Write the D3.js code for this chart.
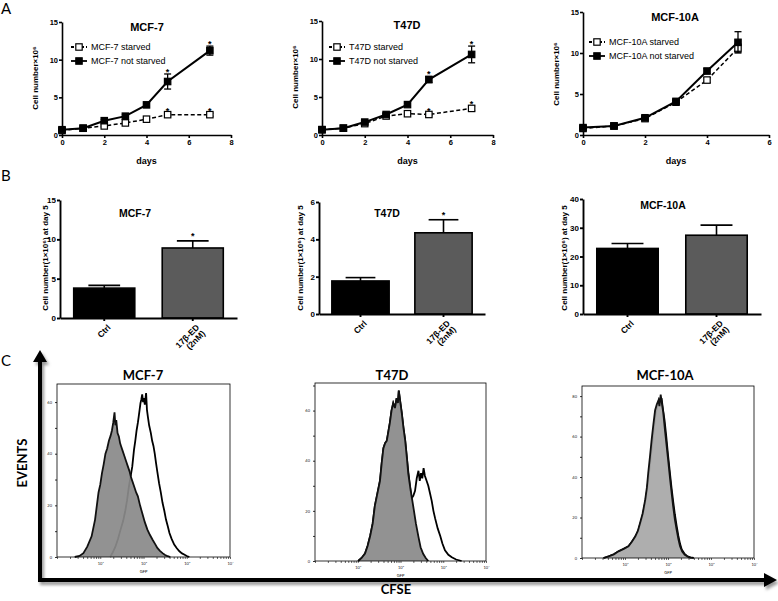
<!DOCTYPE html>
<html>
<head>
<meta charset="utf-8">
<script src="https://cdn.jsdelivr.net/npm/d3@7"></script>
<style>
  body { margin: 0; background: #fff; }
  svg { display: block; }
  .ax path, .ax line { stroke: #000; }
</style>
</head>
<body>
<script>
const width = 778;
const height = 601;

// ---- panel A: growth curves (cells x10^6) ----
const days = [0, 1, 2, 3, 4, 5, 7];
const days10a = [0, 1, 2, 3, 4, 5];

const mcf7Starved = [0.6, 0.9, 1.2, 1.6, 2.1, 2.7, 2.7];
const mcf7StarvedErr = [0.1, 0.1, 0.15, 0.15, 0.15, 0.2, 0.2];
const mcf7Fed = [0.7, 0.9, 1.9, 2.5, 4.0, 7.1, 11.2];
const mcf7FedErr = [0.1, 0.1, 0.15, 0.2, 0.2, 1.0, 0.6];

const t47dStarved = [0.7, 0.9, 1.5, 2.5, 2.8, 2.7, 3.5];
const t47dStarvedErr = [0.1, 0.1, 0.1, 0.15, 0.15, 0.15, 0.3];
const t47dFed = [0.7, 0.9, 1.7, 2.7, 4.0, 7.3, 10.6];
const t47dFedErr = [0.1, 0.1, 0.15, 0.15, 0.2, 0.4, 1.1];

const mcf10aStarved = [0.8, 1.1, 2.0, 4.0, 6.7, 10.6];
const mcf10aStarvedErr = [0.1, 0.1, 0.1, 0.15, 0.3, 0.5];
const mcf10aFed = [0.9, 1.1, 2.1, 4.1, 7.8, 11.3];
const mcf10aFedErr = [0.1, 0.1, 0.1, 0.15, 0.3, 1.3];

const starDays = [5, 7];

// ---- panel B: cell number at day 5 ----
const treatments = ["Ctrl", "17β-ED (2nM)"];
const mcf7Day5 = [3.8, 8.9];
const mcf7Day5Err = [0.35, 0.9];
const t47dDay5 = [1.77, 4.35];
const t47dDay5Err = [0.18, 0.7];
const mcf10aDay5 = [22.8, 27.4];
const mcf10aDay5Err = [1.7, 3.5];

// ---- panel C: CFSE histograms, [log10 intensity, events] ----
const mcf7Shaded = [[0.41,0],[0.52,0.4],[0.61,1.5],[0.70,4],[0.80,8],[0.88,14.5],[0.96,25],[1.00,28],[1.04,32.5],[1.08,36],[1.12,40],[1.16,42],[1.20,45],[1.24,47],[1.27,49],[1.30,52],[1.33,56],[1.35,51],[1.37,53],[1.40,48],[1.43,46.7],[1.46,44],[1.48,43],[1.52,41],[1.56,39],[1.60,37],[1.64,35],[1.68,33],[1.71,31],[1.75,29],[1.79,27],[1.83,25],[1.87,23.5],[1.92,20],[1.97,17],[2.03,13.5],[2.09,10.6],[2.15,8.5],[2.21,6.7],[2.27,5],[2.32,3.5],[2.38,2.4],[2.44,1.5],[2.50,0.8],[2.56,0.3],[2.62,0]];
const mcf7Open = [[1.23,0],[1.29,1.8],[1.35,4],[1.41,7],[1.47,10.6],[1.53,14],[1.58,18],[1.62,22],[1.66,27],[1.70,31],[1.74,35],[1.78,41.5],[1.81,45],[1.84,49],[1.87,52],[1.89,54.5],[1.91,57],[1.93,59.6],[1.95,61],[1.97,63],[1.99,60],[2.01,61.5],[2.03,59],[2.06,63.5],[2.08,57],[2.10,54.5],[2.13,51],[2.17,48],[2.20,45],[2.23,43],[2.26,40],[2.29,36.4],[2.32,33],[2.36,28.6],[2.40,25],[2.44,21],[2.48,18],[2.52,14.5],[2.56,12],[2.60,9.3],[2.65,7],[2.71,4.8],[2.77,3.4],[2.83,2.2],[2.89,1.4],[2.95,0.9],[3.00,0.4],[3.06,0]];

const t47dShaded = [[1.01,0],[1.09,1.2],[1.17,3],[1.23,6],[1.29,10],[1.35,15],[1.40,22],[1.46,27],[1.52,32],[1.56,39],[1.60,45],[1.64,47],[1.68,48],[1.72,52],[1.75,55],[1.79,60],[1.83,63],[1.87,61],[1.91,65],[1.94,63],[1.96,68],[1.99,64],[2.03,59],[2.07,53],[2.11,48],[2.15,41],[2.18,35],[2.24,28],[2.30,21.6],[2.36,15],[2.42,9.6],[2.47,5.5],[2.53,2.9],[2.59,1.2],[2.65,0]];
const t47dOpen = [[1.01,0],[1.09,1.2],[1.17,3],[1.23,6],[1.29,10],[1.35,15],[1.40,22],[1.46,27],[1.52,32],[1.56,39],[1.60,45],[1.64,47],[1.68,48],[1.72,52],[1.75,55],[1.79,60],[1.83,63],[1.87,61],[1.91,65],[1.94,63],[1.96,68],[1.99,64],[2.03,59],[2.07,53],[2.11,48],[2.15,41],[2.18,36],[2.22,30],[2.26,25],[2.30,26],[2.34,28],[2.38,33],[2.42,36],[2.45,32],[2.48,35],[2.51,33],[2.54,37],[2.57,34],[2.61,32],[2.65,30],[2.69,27],[2.73,24],[2.77,20],[2.81,17],[2.87,13],[2.93,10],[2.98,7],[3.04,4.3],[3.12,2.5],[3.20,1.5],[3.30,0.6],[3.43,0]];

const mcf10aShaded = [[0.50,0],[0.62,0.8],[0.74,1.8],[0.85,3.3],[0.97,4.5],[1.08,5.8],[1.16,8],[1.24,10.7],[1.30,13.5],[1.35,17.3],[1.41,22],[1.47,28.8],[1.51,35],[1.54,42],[1.58,50],[1.62,58.5],[1.66,66],[1.70,73],[1.74,76],[1.78,78],[1.80,75],[1.83,80.7],[1.86,76],[1.89,71.7],[1.93,63],[1.97,55],[2.01,47],[2.05,38.7],[2.09,31],[2.12,25.5],[2.16,19],[2.20,14],[2.24,9.5],[2.28,5.8],[2.33,3.2],[2.39,1.6],[2.47,0.5],[2.55,0]];
const mcf10aOpen = [[0.50,0],[0.62,0.8],[0.74,1.8],[0.85,3.3],[0.97,4.5],[1.08,5.8],[1.16,8],[1.24,10.5],[1.30,13],[1.35,16.5],[1.41,21],[1.47,27.5],[1.51,33],[1.55,40],[1.59,48],[1.63,56],[1.67,64],[1.71,71],[1.75,75],[1.79,78],[1.82,76],[1.85,79],[1.88,74],[1.92,68],[1.96,60],[2.00,51],[2.04,43],[2.08,35],[2.12,28],[2.16,21.5],[2.20,16],[2.24,11],[2.28,7],[2.32,4.2],[2.38,2.2],[2.44,1],[2.52,0.3],[2.60,0]];

const svg = d3
  .select("body")
  .append("svg")
  .attr("width", width)
  .attr("height", height);

const boldFont = "Liberation Sans, Arial, sans-serif";
const softFont = "Lato, Noto Sans, sans-serif";

// panel letters
svg.append("text").attr("x", 1).attr("y", 14).text("A");
svg.append("text").attr("x", 1).attr("y", 181).text("B");
svg.append("text").attr("x", 1).attr("y", 366).text("C");
svg.selectAll("text").attr("font-family", softFont).attr("font-size", 15);

function styleAxis(g, w, fs) {
  g.attr("class", "ax");
  g.selectAll("path").attr("stroke-width", w);
  g.selectAll("line").attr("stroke-width", w);
  g.selectAll("text")
    .attr("font-family", boldFont)
    .attr("font-weight", "bold")
    .attr("font-size", fs)
    .attr("fill", "#000");
}

function growthChart(c) {
  const g = svg.append("g");
  const x = d3.scaleLinear().domain([0, c.xMax]).range([c.x0, c.x1]);
  const y = d3.scaleLinear().domain([0, 15]).range([c.y0, c.y1]);

  const xa = g.append("g")
    .attr("transform", `translate(0,${c.y0})`)
    .call(d3.axisBottom(x).tickValues(d3.range(0, c.xMax + 1, 2)).tickFormat(d3.format("d"))
      .tickSize(3).tickSizeOuter(0).tickPadding(2));
  styleAxis(xa, 1.6, 7.5);
  const ya = g.append("g")
    .attr("transform", `translate(${c.x0},0)`)
    .call(d3.axisLeft(y).tickValues([0, 5, 10, 15]).tickSize(3).tickSizeOuter(0).tickPadding(1));
  styleAxis(ya, 1.6, 7.5);

  g.append("text")
    .attr("x", (c.x0 + c.x1) / 2)
    .attr("y", c.y0 + 29)
    .attr("text-anchor", "middle")
    .attr("font-family", boldFont).attr("font-weight", "bold").attr("font-size", 9)
    .text("days");
  g.append("text")
    .attr("transform", `translate(${c.yLabelX},${c.yLabelY}) rotate(-90)`)
    .attr("text-anchor", "middle")
    .attr("font-family", boldFont).attr("font-weight", "bold").attr("font-size", 8)
    .text("Cell number×10⁶");
  g.append("text")
    .attr("x", c.titleX).attr("y", c.titleY)
    .attr("text-anchor", "middle")
    .attr("font-family", boldFont).attr("font-weight", "bold").attr("font-size", 11)
    .text(c.title);

  const series = [
    { v: c.starved, e: c.starvedErr, open: true },
    { v: c.fed, e: c.fedErr, open: false },
  ];
  const line = d3.line().x((d) => x(d.d)).y((d) => y(d.v));

  series.forEach((s) => {
    const pts = c.days.map((d, i) => ({ d, v: s.v[i], e: s.e[i] }));
    g.append("path")
      .datum(pts)
      .attr("d", line)
      .attr("fill", "none")
      .attr("stroke", "#000")
      .attr("stroke-width", s.open ? 1.5 : 2)
      .attr("stroke-dasharray", s.open ? "4,2.5" : null);
    const eb = g.append("g");
    pts.forEach((p) => {
      const xx = x(p.d);
      eb.append("line").attr("x1", xx).attr("x2", xx).attr("y1", y(p.v - p.e)).attr("y2", y(p.v + p.e));
      eb.append("line").attr("x1", xx - 3.5).attr("x2", xx + 3.5).attr("y1", y(p.v + p.e)).attr("y2", y(p.v + p.e));
      eb.append("line").attr("x1", xx - 3.5).attr("x2", xx + 3.5).attr("y1", y(p.v - p.e)).attr("y2", y(p.v - p.e));
    });
    eb.selectAll("line").attr("stroke", "#000").attr("stroke-width", 1.3);
    g.selectAll(null)
      .data(pts)
      .enter()
      .append("rect")
      .attr("x", (p) => x(p.d) - 3.2)
      .attr("y", (p) => y(p.v) - 3.2)
      .attr("width", 6.4)
      .attr("height", 6.4)
      .attr("fill", s.open ? "#fff" : "#000")
      .attr("stroke", "#000")
      .attr("stroke-width", 1.2);
    if (c.stars) {
      g.selectAll(null)
        .data(pts.filter((p) => starDays.includes(p.d)))
        .enter()
        .append("text")
        .attr("x", (p) => x(p.d))
        .attr("y", (p) => y(p.v + p.e) + 1)
        .attr("text-anchor", "middle")
        .attr("font-family", boldFont).attr("font-weight", "bold").attr("font-size", 9)
        .text("*");
    }
  });

  // legend
  c.names.forEach((name, i) => {
    const ly = c.legendY + i * 14;
    g.append("line")
      .attr("x1", c.legendX - 8).attr("x2", c.legendX + 8)
      .attr("y1", ly).attr("y2", ly)
      .attr("stroke", "#000").attr("stroke-width", 1.8)
      .attr("stroke-dasharray", i === 0 ? "3,2" : null);
    g.append("rect")
      .attr("x", c.legendX - 3.2).attr("y", ly - 3.2)
      .attr("width", 6.4).attr("height", 6.4)
      .attr("fill", i === 0 ? "#fff" : "#000")
      .attr("stroke", "#000").attr("stroke-width", 1.2);
    g.append("text")
      .attr("x", c.legendX + 12).attr("y", ly + 3)
      .attr("font-family", boldFont).attr("font-size", 9)
      .text(name);
  });
}

growthChart({
  title: "MCF-7", titleX: 147, titleY: 31,
  x0: 62, x1: 231, y0: 135, y1: 22, xMax: 8,
  days, starved: mcf7Starved, starvedErr: mcf7StarvedErr, fed: mcf7Fed, fedErr: mcf7FedErr,
  stars: true, names: ["MCF-7 starved", "MCF-7 not starved"],
  legendX: 79, legendY: 47, yLabelX: 38, yLabelY: 78,
});
growthChart({
  title: "T47D", titleX: 407, titleY: 29,
  x0: 322, x1: 493, y0: 135, y1: 21, xMax: 8,
  days, starved: t47dStarved, starvedErr: t47dStarvedErr, fed: t47dFed, fedErr: t47dFedErr,
  stars: true, names: ["T47D starved", "T47D not starved"],
  legendX: 337, legendY: 47, yLabelX: 298, yLabelY: 77,
});
growthChart({
  title: "MCF-10A", titleX: 675, titleY: 21,
  x0: 583, x1: 769, y0: 135, y1: 12, xMax: 6,
  days: days10a, starved: mcf10aStarved, starvedErr: mcf10aStarvedErr, fed: mcf10aFed, fedErr: mcf10aFedErr,
  stars: false, names: ["MCF-10A starved", "MCF-10A not starved"],
  legendX: 597, legendY: 42, yLabelX: 559, yLabelY: 74,
});

function barChart(c) {
  const g = svg.append("g");
  const x = d3.scaleBand().domain(treatments).range([c.x0, c.x1]).paddingInner(0.31).paddingOuter(0.155);
  const y = d3.scaleLinear().domain([0, c.yMax]).range([c.y0, c.y1]);

  const bw = x.bandwidth();
  treatments.forEach((t, i) => {
    const cx = x(t) + bw / 2;
    const top = y(c.vals[i] + c.errs[i]);
    g.append("line").attr("x1", cx).attr("x2", cx).attr("y1", y(c.vals[i])).attr("y2", top)
      .attr("stroke", "#000").attr("stroke-width", 1.6);
    g.append("line").attr("x1", cx - bw * 0.26).attr("x2", cx + bw * 0.26).attr("y1", top).attr("y2", top)
      .attr("stroke", "#000").attr("stroke-width", 1.6);
    if (c.star && i === 1) {
      g.append("text").attr("x", cx).attr("y", top - 2).attr("text-anchor", "middle")
        .attr("font-family", boldFont).attr("font-weight", "bold").attr("font-size", 9).text("*");
    }
  });
  g.selectAll("rect")
    .data(c.vals)
    .enter()
    .append("rect")
    .attr("x", (d, i) => x(treatments[i]))
    .attr("y", (d) => y(d))
    .attr("width", bw)
    .attr("height", (d) => c.y0 - y(d))
    .attr("fill", (d, i) => (i === 0 ? "#000" : "#5b5b5b"))
    .attr("stroke", "#000")
    .attr("stroke-width", 1.6);

  const xa = g.append("g")
    .attr("transform", `translate(0,${c.y0})`)
    .call(d3.axisBottom(x).tickSize(3).tickSizeOuter(0).tickFormat(""));
  styleAxis(xa, 1.9, 8);
  const ya = g.append("g")
    .attr("transform", `translate(${c.x0},0)`)
    .call(d3.axisLeft(y).ticks(c.ticks).tickSize(3).tickSizeOuter(0).tickPadding(1));
  styleAxis(ya, 1.9, 8);

  // rotated category labels
  treatments.forEach((t, i) => {
    const cx = x(t) + bw / 2;
    const parts = t.split(" ");
    const tx = g.append("text")
      .attr("transform", `translate(${cx + 7},${c.y0 + 10}) rotate(-45)`)
      .attr("text-anchor", "end")
      .attr("font-family", boldFont).attr("font-weight", "bold").attr("font-size", 8.5);
    parts.forEach((p, k) => {
      tx.append("tspan").attr("x", 0).attr("dy", k === 0 ? 0 : 8.5).text(p);
    });
  });

  g.append("text")
    .attr("transform", `translate(${c.yLabelX},258) rotate(-90)`)
    .attr("text-anchor", "middle")
    .attr("font-family", boldFont).attr("font-weight", "bold").attr("font-size", 8)
    .text("Cell number(1×10⁶) at day 5");
  g.append("text")
    .attr("x", c.titleX).attr("y", c.titleY)
    .attr("text-anchor", "middle")
    .attr("font-family", boldFont).attr("font-weight", "bold").attr("font-size", 10.5)
    .text(c.title);
}

barChart({ title: "MCF-7", titleX: 135, titleY: 217, x0: 60, x1: 237, y0: 318, y1: 200, yMax: 15, ticks: 3,
  vals: mcf7Day5, errs: mcf7Day5Err, star: true, yLabelX: 48 });
barChart({ title: "T47D", titleX: 387, titleY: 217, x0: 319, x1: 485, y0: 314, y1: 202, yMax: 6, ticks: 3,
  vals: t47dDay5, errs: t47dDay5Err, star: true, yLabelX: 303 });
barChart({ title: "MCF-10A", titleX: 663, titleY: 209, x0: 583, x1: 761, y0: 314, y1: 199, yMax: 40, ticks: 4,
  vals: mcf10aDay5, errs: mcf10aDay5Err, star: false, yLabelX: 567 });

// panel C big axes
const defs = svg.append("defs");
defs.append("filter").attr("id", "soft").append("feGaussianBlur").attr("stdDeviation", 1.6);
const arrows = svg.append("g");
[["#9a9a9a", 2, 3, "url(#soft)"], ["#000", 0, 0, null]].forEach(([col, dx, dy, f]) => {
  const a = arrows.append("g").attr("transform", `translate(${dx},${dy})`).attr("filter", f);
  a.append("path").attr("d", "M40,580 L40,360 M38,580 L766,580")
    .attr("stroke", col).attr("stroke-width", 4).attr("fill", "none");
  a.append("path").attr("d", "M40,350 L33,362 L47,362 Z M777,580 L764,573 L764,587 Z").attr("fill", col);
});
svg.append("text")
  .attr("transform", "translate(27,463) rotate(-90)")
  .attr("text-anchor", "middle")
  .attr("font-family", softFont).attr("font-weight", "bold").attr("font-size", 13)
  .text("EVENTS");
svg.append("text")
  .attr("x", 396).attr("y", 594)
  .attr("text-anchor", "middle")
  .attr("font-family", softFont).attr("font-weight", "bold").attr("font-size", 13)
  .text("CFSE");

function histogram(c) {
  const g = svg.append("g");
  const x = d3.scaleLog().domain([1, 1e4]).range([c.x0, c.x1]);
  const y = d3.scaleLinear().domain([0, c.yMax]).range([c.y0, c.y1]);

  const line = d3.line().x((d) => x(10 ** d[0])).y((d) => y(d[1]));
  const area = d3.area().x((d) => x(10 ** d[0])).y0(c.y0).y1((d) => y(d[1]));

  g.append("path").datum(c.open).attr("d", line)
    .attr("fill", "none").attr("stroke", "#000").attr("stroke-width", 1.8);
  g.append("path").datum(c.shaded).attr("d", area)
    .attr("fill", c.fill).attr("fill-opacity", 0.93);
  g.append("path").datum(c.shaded).attr("d", line)
    .attr("fill", "none").attr("stroke", "#111").attr("stroke-width", 1.8);

  g.append("rect")
    .attr("x", c.x0).attr("y", c.y1)
    .attr("width", c.x1 - c.x0).attr("height", c.y0 - c.y1)
    .attr("fill", "none").attr("stroke", "#000").attr("stroke-width", 0.8);

  const xa = g.append("g").attr("transform", `translate(0,${c.y0})`)
    .call(d3.axisBottom(x).tickValues(x.ticks()).tickSize(2).tickSizeOuter(0)
      .tickFormat((d) => ([10, 100, 1000, 10000].includes(d) ? "10" + "¹²³⁴"[Math.log10(d) - 1] : "")));
  xa.selectAll("path").remove();
  xa.selectAll("line").attr("stroke", "#000").attr("stroke-width", 0.6);
  xa.selectAll("text").attr("font-size", 4).attr("font-family", softFont).attr("fill", "#222");

  const ya = g.append("g").attr("transform", `translate(${c.x0},0)`)
    .call(d3.axisLeft(y).tickValues(d3.range(0, c.yMax, 10)).tickSize(2).tickSizeOuter(0)
      .tickFormat((d) => (d % 20 === 0 ? d : "")));
  ya.selectAll("path").remove();
  ya.selectAll("line").attr("stroke", "#000").attr("stroke-width", 0.8);
  ya.selectAll("text").attr("font-size", 4).attr("font-family", softFont).attr("fill", "#222");

  g.append("text")
    .attr("x", (c.x0 + c.x1) / 2).attr("y", c.y0 + 16)
    .attr("text-anchor", "middle").attr("font-size", 4).attr("font-family", softFont)
    .text("GFP");
  g.append("text")
    .attr("x", c.titleX).attr("y", 380)
    .attr("text-anchor", "middle")
    .attr("font-family", softFont).attr("font-weight", "bold").attr("font-size", 13)
    .text(c.title);
}

histogram({ title: "MCF-7", titleX: 143, x0: 57, x1: 230, y0: 557, y1: 384, yMax: 67,
  shaded: mcf7Shaded, open: mcf7Open, fill: "#8a8a8a" });
histogram({ title: "T47D", titleX: 392, x0: 315, x1: 486, y0: 561, y1: 383, yMax: 71,
  shaded: t47dShaded, open: t47dOpen, fill: "#8a8a8a" });
histogram({ title: "MCF-10A", titleX: 665, x0: 582, x1: 754, y0: 558, y1: 386, yMax: 85,
  shaded: mcf10aShaded, open: mcf10aOpen, fill: "#a8a8a8" });
</script>
</body>
</html>
